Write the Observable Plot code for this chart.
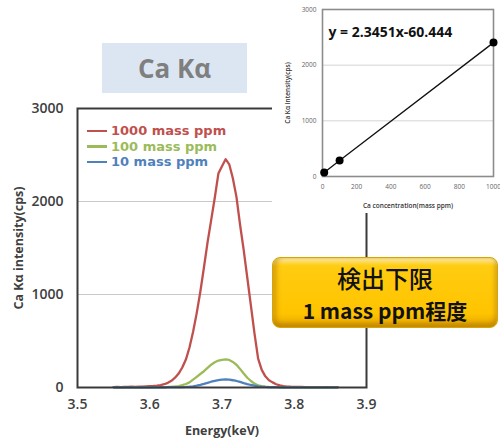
<!DOCTYPE html>
<html><head><meta charset="utf-8">
<script src="https://cdn.jsdelivr.net/npm/d3@7"></script>
<script src="https://cdn.jsdelivr.net/npm/@observablehq/plot@0.6"></script>
<style>
body{margin:0;background:#fff;}
#wrap{position:relative;width:500px;height:439px;overflow:hidden;font-family:"Open Sans",Lato,sans-serif;background:#fff;}
#main{position:absolute;left:0;top:0;}
#main svg{display:block;}
#main g[aria-label="x-axis label"], #main g[aria-label="y-axis label"]{font-weight:700;}
#main g[aria-label="x-axis tick label"], #main g[aria-label="y-axis tick label"]{font-weight:600;}
#title{position:absolute;left:102px;top:43px;width:145px;height:50px;background:#dce6f2;color:#7f7f7f;font-weight:700;font-size:26px;line-height:50px;text-align:center;}
#legend{position:absolute;left:87px;top:123px;font-family:"DejaVu Sans",sans-serif;}
#legend .row{height:15.5px;line-height:15px;display:flex;align-items:center;font-size:13px;font-weight:700;white-space:nowrap;}
#legend .sw{display:inline-block;width:20px;height:2.5px;margin-right:4px;}
#inset{position:absolute;left:272px;top:0;width:228px;height:213px;background:#fff;}
#inset svg{display:block;}
#inset g[aria-label="x-axis label"], #inset g[aria-label="y-axis label"]{font-weight:600;fill:#333;}
#note{position:absolute;left:272px;top:257px;width:226px;height:71px;border-radius:8px;
 background:linear-gradient(to bottom,#ffe27a 0%,#ffcc10 12%,#ffc400 80%,#e6a800 100%);
 box-shadow:inset 4px 0 4px rgba(190,130,0,.55), inset -2px -4px 4px rgba(170,115,0,.55), inset 0 3px 3px rgba(255,240,170,.8);
 border:1px solid #d9a400;box-sizing:border-box;text-align:center;color:#111;font-family:"Noto Sans CJK JP",sans-serif;}
#note .l1{position:absolute;left:0;right:0;top:5px;font-size:24px;line-height:30px;font-weight:500;}
#note .l2{position:absolute;left:0;right:0;top:38px;font-size:21px;line-height:28px;font-weight:700;}
</style></head><body>
<div id="wrap">
  <div id="main"></div>
  <div id="title">Ca Kα</div>
  <div id="legend"></div>
  <div id="inset"></div>
  <div id="note"><div class="l1">検出下限</div><div class="l2">1 mass ppm程度</div></div>
</div>
<script>
// ---- main spectrum data ----
const energy = [3.550,3.555,3.560,3.565,3.570,3.575,3.580,3.585,3.590,3.595,
  3.600,3.605,3.610,3.615,3.620,3.625,3.630,3.635,3.640,3.645,
  3.650,3.655,3.660,3.665,3.670,3.675,3.680,3.685,3.690,3.695,
  3.700,3.705,3.710,3.715,3.720,3.725,3.730,3.735,3.740,3.745,
  3.750,3.755,3.760,3.765,3.770,3.775,3.780,3.785,3.790,3.795,
  3.800,3.805,3.810,3.815,3.820,3.825,3.830,3.835,3.840,3.845,
  3.850,3.855,3.860];
const ppm1000 = [5,6,5,7,6,8,7,9,10,12,
  14,16,20,26,35,50,72,105,150,215,
  300,430,600,800,1030,1290,1560,1800,2040,2300,
  2380,2455,2400,2250,2050,1750,1480,1180,880,580,
  310,190,120,78,55,35,22,14,10,8,
  7,6,6,5,5,5,4,5,4,4,
  4,3,3];
const ppm100 = [2,1,2,1,2,2,1,2,2,3,
  2,3,3,4,5,6,8,11,15,25,
  38,55,85,115,145,175,210,245,272,290,
  298,302,296,275,245,200,150,105,70,42,
  22,14,9,6,4,3,3,2,2,2,
  2,1,2,1,1,2,1,1,1,1,
  1,1,1];
const ppm10 = [2,3,1,2,3,2,1,2,3,2,
  2,3,2,3,2,3,3,4,4,5,
  6,9,13,20,28,38,50,62,72,80,
  85,87,84,78,70,60,48,37,27,19,
  13,9,6,4,3,3,2,3,2,2,
  3,2,2,3,2,2,1,2,2,3,
  2,2,2];
const seriesNames = ["1000 mass ppm","100 mass ppm","10 mass ppm"];
const seriesValues = [ppm1000, ppm100, ppm10];
const seriesColors = ["#c0504d","#9bbb59","#4f81bd"];
const xTicks = [3.5,3.6,3.7,3.8,3.9];
const yTicks = [0,1000,2000,3000];

// ---- calibration inset data ----
const concentration = [10, 100, 1000];
const intensity = [72, 288, 2405];
const concTicks = [0,200,400,600,800,1000];
const intTicks = [0,1000,2000,3000];
const equation = "y = 2.3451x-60.444";

const font = "'Open Sans', Lato, sans-serif";

const lineMarks = seriesNames.map((name, i) =>
  Plot.line(energy.map((e, j) => ({energy: e, value: seriesValues[i][j], series: name})),
    {x: "energy", y: "value", stroke: seriesColors[i], strokeWidth: 2.3, curve: "linear"}));

const main = Plot.plot({
  width: 500, height: 439,
  marginLeft: 77, marginRight: 134, marginTop: 108, marginBottom: 52,
  style: {fontFamily: font, fontSize: "14px", color: "#404040", background: "transparent"},
  x: {domain: [3.5, 3.9], label: "Energy(keV)"},
  y: {domain: [0, 3000], label: "Ca Kα intensity(cps)"},
  marks: [
    Plot.gridY([1000, 2000], {stroke: "#c8c8c8", strokeOpacity: 1, strokeWidth: 1.2}),
    Plot.axisX({ticks: xTicks, tickSize: 0, tickPadding: 12, tickFormat: d3.format(".1f"),
      labelAnchor: "center", labelArrow: "none", labelOffset: 47, fontSize: 14}),
    Plot.axisY({ticks: yTicks, tickSize: 0, tickPadding: 14, tickFormat: d => String(d),
      labelAnchor: "center", labelArrow: "none", labelOffset: 63, fontSize: 14}),
    ...lineMarks,
    Plot.frame({stroke: "#3a3a3a", strokeWidth: 2})
  ]
});
document.getElementById("main").append(main);
main.querySelectorAll('g[aria-label="x-axis label"] text, g[aria-label="y-axis label"] text')
  .forEach(t => t.setAttribute("font-size", "12.5"));

// legend
const legend = document.getElementById("legend");
seriesNames.forEach((n, i) => {
  const row = document.createElement("div");
  row.className = "row";
  row.style.color = seriesColors[i];
  const sw = document.createElement("span");
  sw.className = "sw";
  sw.style.background = seriesColors[i];
  row.append(sw, document.createTextNode(n));
  legend.append(row);
});

// inset
const calib = concentration.map((c, i) => ({conc: c, int: intensity[i]}));
const inset = Plot.plot({
  width: 228, height: 213,
  marginLeft: 50, marginRight: 7, marginTop: 9, marginBottom: 37,
  style: {fontFamily: font, fontSize: "6.5px", color: "#666", background: "#fff", overflow: "visible"},
  x: {domain: [0, 1000], label: "Ca concentration(mass ppm)"},
  y: {domain: [0, 3000], label: "Ca Kα intensity(cps)"},
  marks: [
    Plot.gridY([1000, 2000], {stroke: "#d4d4d4", strokeOpacity: 1}),
    Plot.axisX({ticks: concTicks, tickSize: 0, tickPadding: 8, tickFormat: d => String(d),
      labelAnchor: "center", labelArrow: "none", labelOffset: 31}),
    Plot.axisY({ticks: intTicks, tickSize: 0, tickPadding: 6, tickFormat: d => String(d),
      labelAnchor: "center", labelArrow: "none", labelOffset: 37}),
    Plot.frame({stroke: "#8c8c8c", strokeWidth: 1.6}),
    Plot.line(calib, {x: "conc", y: "int", stroke: "#111", strokeWidth: 1.3}),
    Plot.dot(calib, {x: "conc", y: "int", r: 4, fill: "#000", stroke: "none"}),
    Plot.text([equation], {frameAnchor: "top-left", dx: 6, dy: 23, lineAnchor: "middle", textAnchor: "start",
      text: d => d, fontSize: 14, fontWeight: 700, fill: "#111"})
  ]
});
document.getElementById("inset").append(inset);
</script>
</body></html>
